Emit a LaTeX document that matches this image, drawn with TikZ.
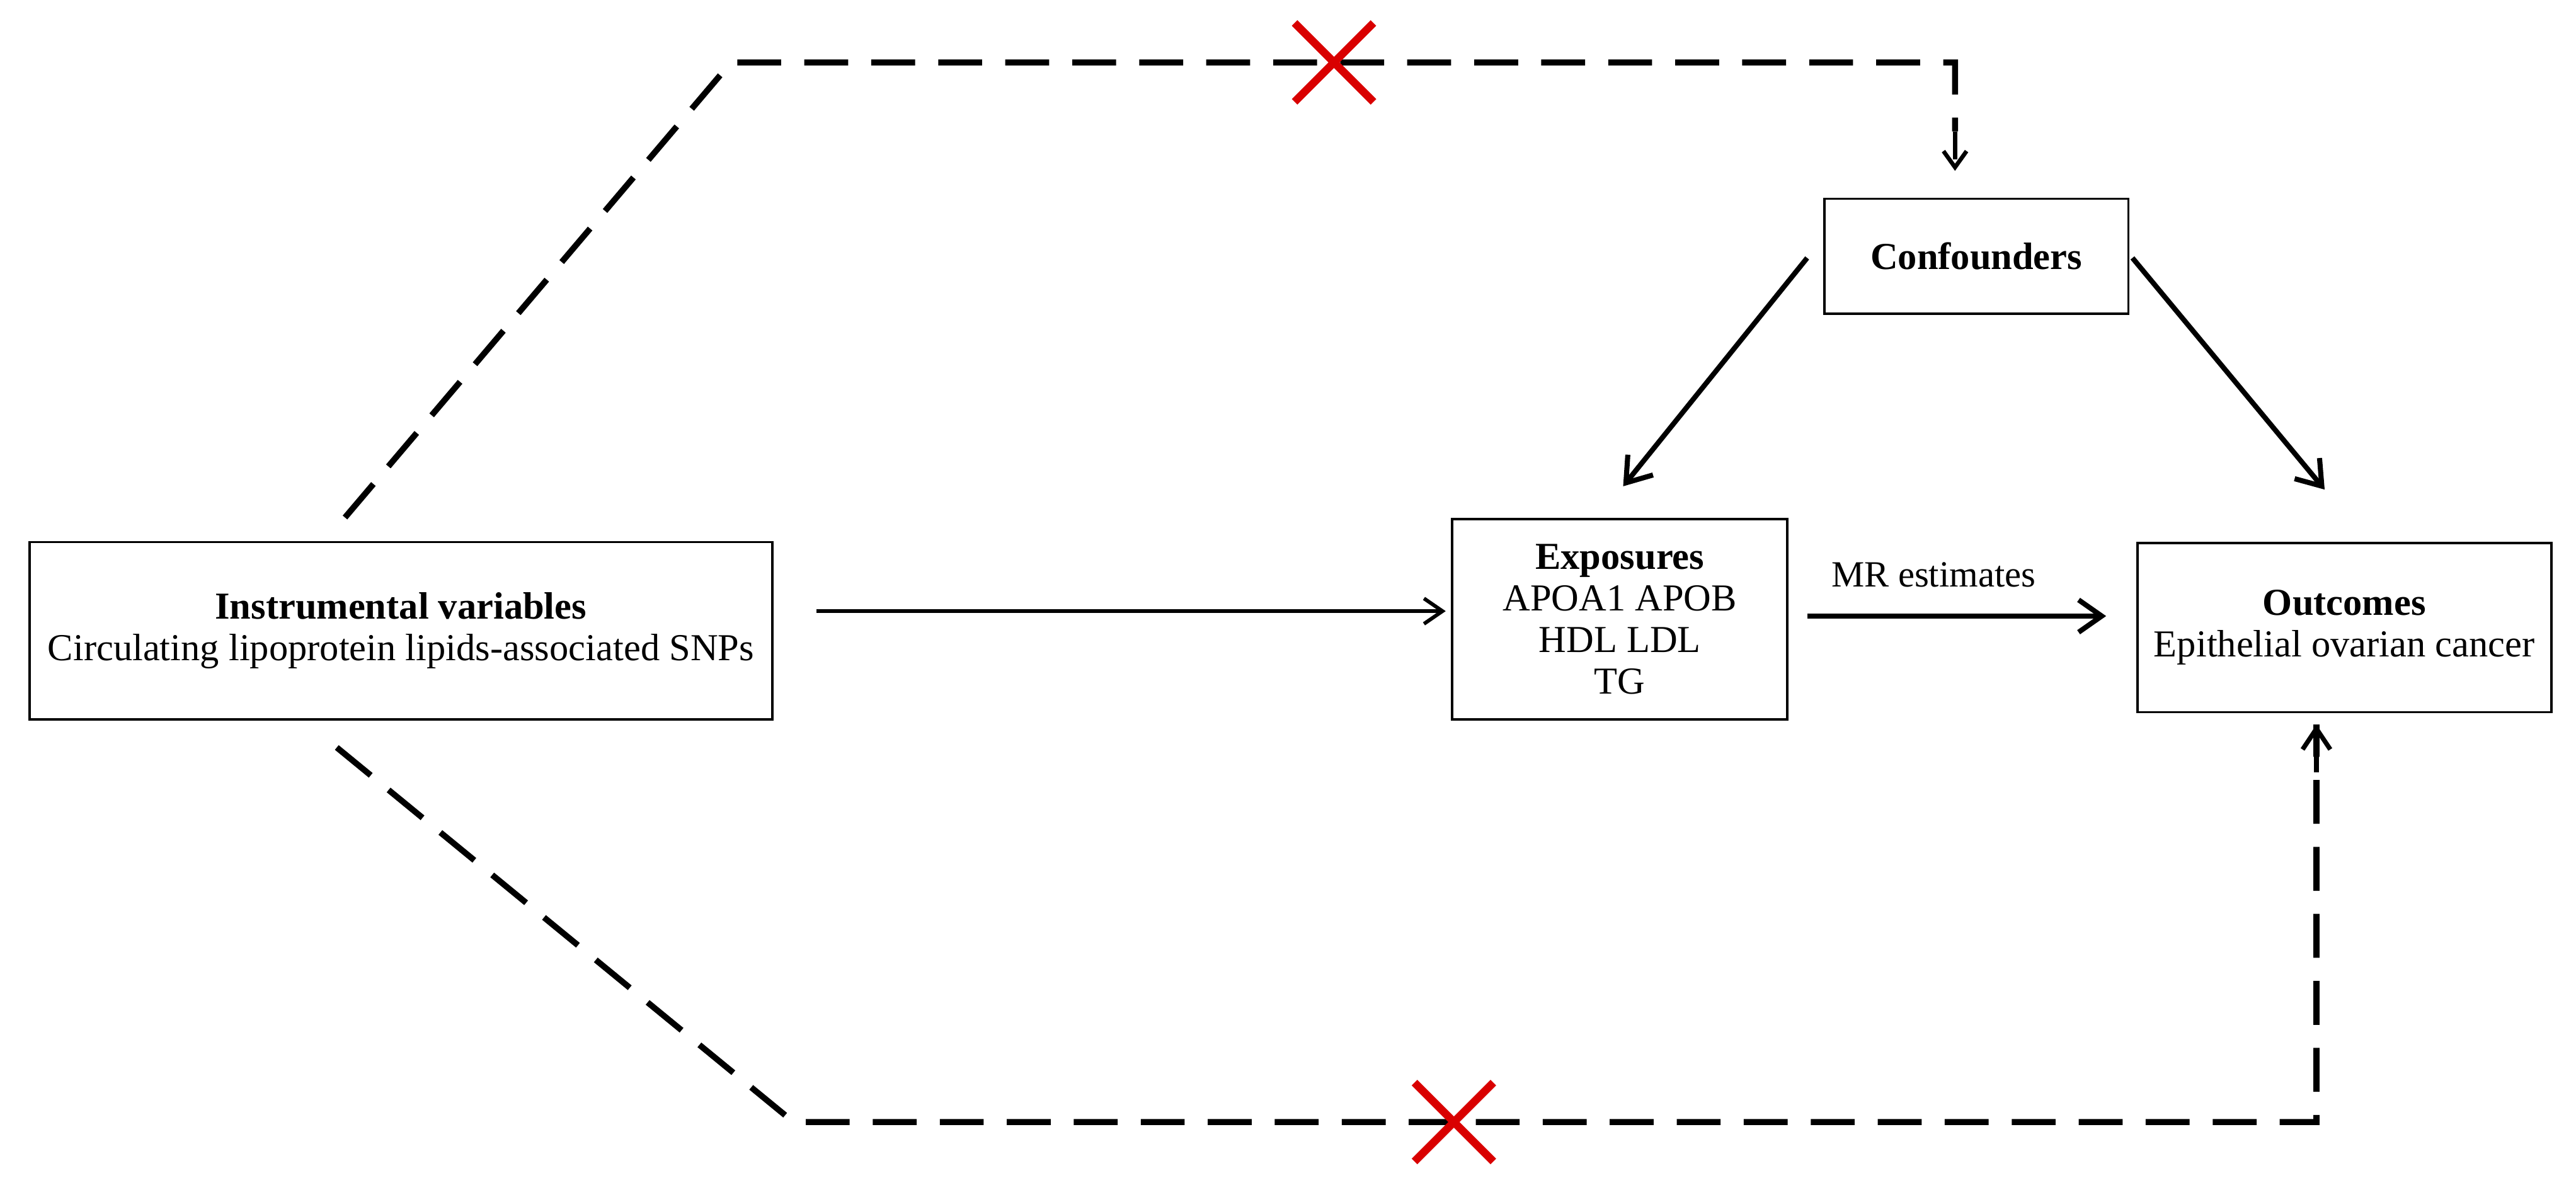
\documentclass[tikz,border=0pt]{standalone}
\usepackage{fontspec}
\setmainfont{Liberation Serif}
\usetikzlibrary{arrows.meta}
\begin{document}
\begin{tikzpicture}[x=0.025cm,y=-0.025cm,
  box/.style={draw,line width=1pt,inner sep=0pt,font=\fontsize{16.5}{18}\selectfont,align=center},
  sol/.style={line width=2.2pt,-{Straight Barb[length=10pt,width=14pt]}},
  dsh/.style={line width=2.6pt,dash pattern=on 19pt off 10pt},
  cross/.style={red!85!black,line width=3.4pt}]
\useasboundingbox (0,0) rectangle (1568,724);
\node[box,minimum width=452*0.025cm,minimum height=108*0.025cm] (iv) at (244,384)
  {\textbf{Instrumental variables}\\Circulating lipoprotein lipids-associated SNPs};
\node[box,minimum width=204*0.025cm,minimum height=122*0.025cm] (ex) at (986,377)
  {\textbf{Exposures}\\APOA1 APOB\\HDL LDL\\TG};
\node[box,minimum width=252*0.025cm,minimum height=103*0.025cm] (out) at (1427,382)
  {\textbf{Outcomes}\\Epithelial ovarian cancer};
\node[box,minimum width=185*0.025cm,minimum height=70*0.025cm] (cf) at (1203,156)
  {\textbf{Confounders}};
\coordinate (a1) at (497,372); \coordinate (a2) at (880,372);
\draw[line width=1.6pt,-{Straight Barb[length=8pt,width=11pt]}] (a1) -- (a2);
\coordinate (m1) at (1100,375); \coordinate (m2) at (1282,375);
\draw[sol] (m1) -- (m2) node[midway,above=8pt,xshift=-10pt,font=\fontsize{16}{18}\selectfont] (mr) {MR estimates};
\coordinate (c1) at (1100,157); \coordinate (c2) at (988,296);
\coordinate (c3) at (1298,157); \coordinate (c4) at (1415,298);
\draw[sol] (c1) -- (c2);
\draw[sol] (c3) -- (c4);
\coordinate (t0) at (210,315); \coordinate (t1) at (445,38); \coordinate (t2) at (1190,38); \coordinate (t3) at (1190,104);
\draw[dsh] (t0) -- (t1) -- (t2) -- (1190,80);
\draw[line width=1.8pt,dash pattern=on 12pt off 6pt,-{Straight Barb[length=7pt,width=10pt]}] (1190,80) -- (t3);
\coordinate (b0) at (205,455); \coordinate (b1) at (483,683); \coordinate (b2) at (1410,683); \coordinate (b3) at (1410,441);
\draw[dsh] (b0) -- (b1) -- (b2) -- (b3);
\draw[line width=2pt,-{Straight Barb[length=9pt,width=12pt]}] (1410,470) -- (b3);
\draw[cross] (788,14) -- (836,62) (836,14) -- (788,62);
\draw[cross] (861,659) -- (909,707) (909,659) -- (861,707);
\end{tikzpicture}
\end{document}
